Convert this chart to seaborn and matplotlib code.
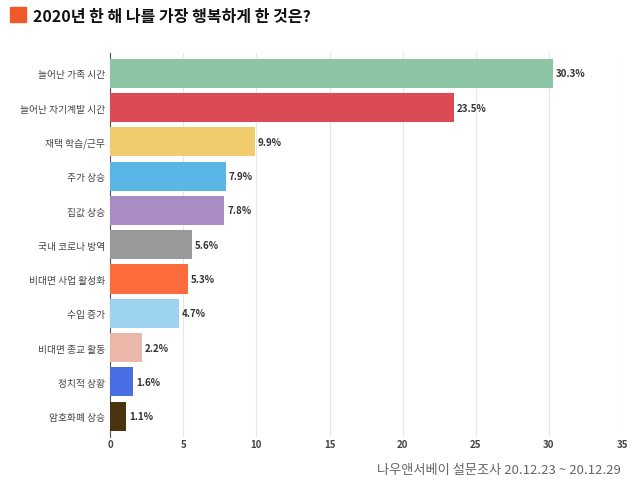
import matplotlib
matplotlib.use("Agg")
import matplotlib.pyplot as plt
from matplotlib import font_manager
import seaborn as sns
import pandas as pd

names = {f.name for f in font_manager.fontManager.ttflist}
fam = [n for n in ["Noto Sans CJK KR", "Noto Sans CJK JP", "Noto Sans CJK SC", "Noto Sans CJK"] if n in names]
plt.rcParams["font.family"] = fam + ["DejaVu Sans"]

categories = ["늘어난 가족 시간", "늘어난 자기계발 시간", "재택 학습/근무", "주가 상승", "집값 상승",
              "국내 코로나 방역", "비대면 사업 활성화", "수입 증가", "비대면 종교 활동", "정치적 상황", "암호화폐 상승"]
values = [30.3, 23.5, 9.9, 7.9, 7.8, 5.6, 5.3, 4.7, 2.2, 1.6, 1.1]
colors = ["#8cc5a4", "#dc4a55", "#f0cc6c", "#5ab6e4", "#a98cc5", "#999999",
          "#fc6b3b", "#9dd3ee", "#ebb7a8", "#4a6ee4", "#4a3410"]
xticks = [0, 5, 10, 15, 20, 25, 30, 35]

df = pd.DataFrame({"cat": categories, "val": values})
fig = plt.figure(figsize=(6.4, 4.89), dpi=100)
ax = fig.add_axes([0.172, 0.105, 0.80, 0.785])
sns.barplot(data=df, x="val", y="cat", hue="cat", palette=colors, legend=False,
            width=0.85, saturation=1, ax=ax, zorder=3)
for i, v in enumerate(values):
    ax.text(v + 0.2, i, f"{v}%", va="center", ha="left", fontsize=7, fontweight="bold", color="#333333")
ax.set_xlim(0, 35)
ax.set_xticks(xticks)
ax.set_xticklabels([str(t) for t in xticks], fontsize=7, fontweight="bold", color="#444444")
ax.tick_params(axis="y", labelsize=7, length=0, colors="#444444")
ax.tick_params(axis="x", length=0, pad=2)
ax.set_xlabel("")
ax.set_ylabel("")
ax.grid(axis="x", color="#e6e6e6", lw=0.8, zorder=0)
for s in ["top", "right", "bottom"]:
    ax.spines[s].set_visible(False)
ax.spines["left"].set_color("#555555")
ax.set_ylim(10.6, -0.6)

fig.patches.append(plt.Rectangle((0.016, 0.952), 0.024, 0.032, transform=fig.transFigure,
                                 color="#f05a28", figure=fig))
fig.text(0.052, 0.966, "2020년 한 해 나를 가장 행복하게 한 것은?", fontsize=11.5, fontweight="bold",
         va="center", color="#111111")
fig.text(0.97, 0.03, "나우앤서베이 설문조사 20.12.23 ~ 20.12.29", fontsize=9.5, ha="right",
         color="#666666")
fig.savefig("out.png", dpi=100)
